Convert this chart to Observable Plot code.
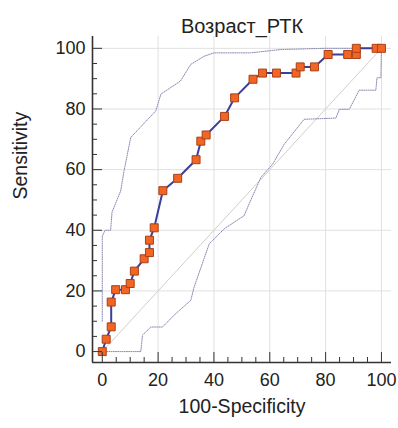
<!DOCTYPE html>
<html>
<head>
<meta charset="utf-8">
<script src="https://cdn.jsdelivr.net/npm/d3@7"></script>
<script src="https://cdn.jsdelivr.net/npm/@observablehq/plot@0.6"></script>
<style>
  body { margin: 0; background: #fff; }
  #chart svg { display: block; }
</style>
</head>
<body>
<div id="chart"></div>
<script>
const title = "Возраст_РТК";
const xLabel = "100-Specificity";
const yLabel = "Sensitivity";

// ROC curve points (100-Specificity, Sensitivity)
const rocX = [0, 1.4, 3.2, 3.2, 4.8, 8.3, 10, 11.5, 15, 16.9, 16.9, 18.6, 21.7, 27, 33.6, 35.3, 37.2, 43.8, 47.4, 54, 57.4, 62.4, 69.4, 70.9, 76, 80.9, 87.9, 91, 91, 98.1, 100];
const rocY = [0, 4.08, 8.16, 16.33, 20.41, 20.41, 22.45, 26.53, 30.61, 32.65, 36.73, 40.82, 53.06, 57.14, 63.27, 69.39, 71.43, 77.55, 83.67, 89.8, 91.84, 91.84, 91.84, 93.88, 93.88, 97.96, 97.96, 97.96, 100, 100, 100];

// Upper confidence bound
const upX = [0, 0, 1, 3, 3.5, 6.6, 7.8, 10.2, 19.2, 21, 28, 31.7, 36.5, 40, 53, 64, 79.4, 100];
const upY = [10, 38, 40, 40, 46, 53, 59.6, 70.6, 79.4, 84.9, 89.2, 94.7, 97.4, 98.5, 98.5, 99.6, 100, 100];

// Lower confidence bound
const loX = [0, 13.8, 14.4, 17.4, 21.6, 25.7, 31.7, 32.9, 38.3, 43.7, 50.8, 52.6, 56.8, 61, 65.2, 72.3, 83.7, 84.9, 88.5, 92, 98, 98.4, 99.8, 100];
const loY = [0, 0, 5.4, 8.1, 8.1, 12, 16.9, 21.3, 35.5, 40.5, 44.8, 48.7, 57.4, 61.8, 68.4, 76.6, 77, 79.9, 79.9, 86.2, 86.2, 90.3, 90.3, 100];

// Reference diagonal
const diagX = [0, 100];
const diagY = [0, 100];

const majorTicks = [0, 20, 40, 60, 80, 100];
const minorTicks = d3.range(0, 101, 5).filter(v => v % 20 !== 0);
const gridTicks = [20, 40, 60, 80, 100];

const xDomain = [-3.5, 103.6];
const yDomain = [-3.6, 103.9];

const toRows = (xs, ys) => xs.map((x, i) => ({x, y: ys[i]}));
const roc = toRows(rocX, rocY);
const upper = toRows(upX, upY);
const lower = toRows(loX, loY);
const diag = toRows(diagX, diagY);

const axisColor = "#333";

const chart = Plot.plot({
  width: 398,
  height: 428,
  marginLeft: 92,
  marginRight: 7,
  marginTop: 36,
  marginBottom: 66,
  style: {fontFamily: "'Liberation Sans', Arial, sans-serif", fontSize: "18px", color: "#222", background: "#fff"},
  x: {domain: xDomain, axis: null},
  y: {domain: yDomain, axis: null},
  marks: [
    Plot.gridX(gridTicks, {stroke: "#e0e0e0", strokeOpacity: 1}),
    Plot.gridY(gridTicks, {stroke: "#e0e0e0", strokeOpacity: 1}),
    Plot.line(diag, {x: "x", y: "y", stroke: "#cfcfcf", strokeWidth: 1}),
    Plot.line(upper, {x: "x", y: "y", stroke: "#8a8ab2", strokeWidth: 1, strokeDasharray: "1,1.2"}),
    Plot.line(lower, {x: "x", y: "y", stroke: "#8a8ab2", strokeWidth: 1, strokeDasharray: "1,1.2"}),
    Plot.line(roc, {x: "x", y: "y", stroke: "#3b3f9c", strokeWidth: 2}),
    Plot.dot(roc, {x: "x", y: "y", symbol: "square", r: 4.5, fill: "#f26522", stroke: "#a6401a", strokeWidth: 1}),
    Plot.ruleY([yDomain[0]], {stroke: axisColor, strokeWidth: 1.6}),
    Plot.ruleX([xDomain[0]], {stroke: axisColor, strokeWidth: 1.6}),
    Plot.axisX(minorTicks, {tickSize: -5, text: null, label: null, stroke: axisColor}),
    Plot.axisX(majorTicks, {tickSize: -10, text: null, label: null, stroke: axisColor}),
    Plot.axisX(majorTicks, {tickSize: 0, tickPadding: 11, label: null, fontSize: 18, fill: "#222"}),
    Plot.axisY(minorTicks, {tickSize: -5, text: null, label: null, stroke: axisColor}),
    Plot.axisY(majorTicks, {tickSize: -10, text: null, label: null, stroke: axisColor}),
    Plot.axisY(majorTicks, {tickSize: 0, tickPadding: 7, label: null, fontSize: 18, fill: "#222"}),
    Plot.text([title], {frameAnchor: "top", dy: -18, fontSize: 20, fill: "#222"}),
    Plot.text([xLabel], {frameAnchor: "bottom", dy: 50, fontSize: 19.5, fill: "#222"}),
    Plot.text([yLabel], {frameAnchor: "left", dx: -72, rotate: -90, fontSize: 19.5, fill: "#222"})
  ]
});

document.getElementById("chart").appendChild(chart);
</script>
</body>
</html>
